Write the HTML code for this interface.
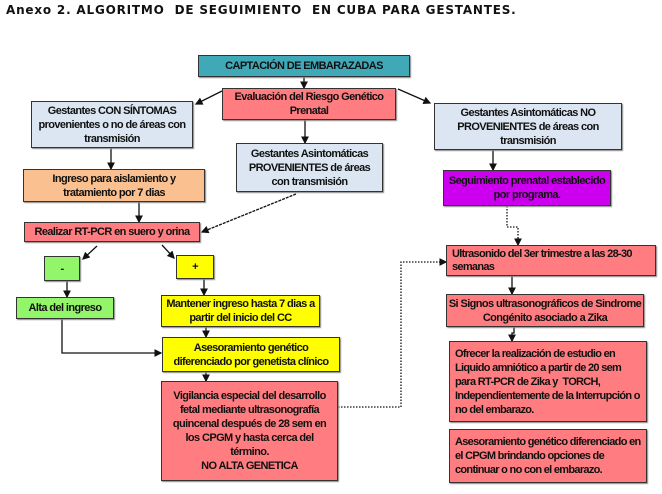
<!DOCTYPE html>
<html><head><meta charset="utf-8"><style>
body{margin:0;width:662px;height:494px;background:#fff;position:relative;overflow:hidden}
.t{position:absolute;left:6px;top:3px;font:bold 12px "DejaVu Sans",sans-serif;color:#111;white-space:nowrap;letter-spacing:0.8px}
.b{position:absolute;box-sizing:border-box;border:1.5px solid #333;display:flex;align-items:center;justify-content:center;text-align:center;font:bold 11px/14px "Liberation Sans",sans-serif;letter-spacing:-0.6px;white-space:nowrap;color:#111;box-shadow:1px 1px 1px #888}
.l{justify-content:flex-start;text-align:left;padding-left:5px;letter-spacing:-0.7px}
.pk{background:#ff7c80}.bl{background:#dce6f2}.or{background:#fac08f}.gr{background:#92f56a}.ye{background:#ffff00}
svg{position:absolute;left:0;top:0}
</style></head><body>
<div class="t">Anexo 2. ALGORITMO &nbsp;DE SEGUIMIENTO &nbsp;EN CUBA PARA GESTANTES.</div>
<svg width="662" height="494">
<defs><marker id="a" markerWidth="6" markerHeight="6" refX="5" refY="3" orient="auto"><path d="M0,0L6,3L0,6z" fill="#111"/></marker></defs>
<g stroke="#111" stroke-width="1.3" fill="none" marker-end="url(#a)">
<line x1="304" y1="77" x2="304" y2="88"/>
<line x1="222" y1="91" x2="196" y2="104"/>
<line x1="398" y1="89" x2="430" y2="103"/>
<line x1="305" y1="120" x2="305" y2="143"/>
<line x1="111" y1="148" x2="111" y2="169"/>
<line x1="139" y1="202" x2="139" y2="222"/>
<line x1="296" y1="194" x2="202" y2="232" stroke-dasharray="3,1"/>
<line x1="97" y1="246" x2="83" y2="259"/>
<line x1="162" y1="245" x2="174" y2="258"/>
<line x1="67" y1="281" x2="67" y2="297"/>
<line x1="204" y1="279" x2="204" y2="295"/>
<line x1="206" y1="327" x2="206" y2="337"/>
<polyline points="62,319 62,353 161,353"/>
<line x1="206" y1="372" x2="206" y2="381"/>
<polyline points="338,407 401,407 401,262 446,262" stroke-dasharray="1.5,1.5"/>
<line x1="493" y1="150" x2="493" y2="170"/>
<polyline points="507,206 507,227 518,227 518,245" stroke-dasharray="1.5,1.5"/>
<line x1="512" y1="276" x2="512" y2="294"/>
<polyline points="514,327 514,333 512,333 512,341"/>
</g></svg>
<div class="b" style="left:198px;top:55px;width:212px;height:22px;background:#40a9b8">CAPTACIÓN DE EMBARAZADAS</div>
<div class="b pk" style="left:222px;top:88px;width:174px;height:32px">Evaluación del Riesgo Genético<br>Prenatal</div>
<div class="b bl" style="left:31px;top:101px;width:162px;height:47px">Gestantes CON SÍNTOMAS<br>provenientes o no de áreas con<br>transmisión</div>
<div class="b bl" style="left:236px;top:143px;width:147px;height:49px">Gestantes Asintomáticas<br>PROVENIENTES de áreas<br>con transmisión</div>
<div class="b bl" style="left:434px;top:103px;width:188px;height:47px">Gestantes Asintomáticas NO<br>PROVENIENTES de áreas con<br>transmisión</div>
<div class="b or" style="left:23px;top:169px;width:182px;height:33px">Ingreso para aislamiento y<br>tratamiento por 7 dias</div>
<div class="b" style="left:443px;top:170px;width:168px;height:36px;background:#cc00ee">Seguimiento prenatal establecido<br>por programa.</div>
<div class="b pk" style="left:24px;top:222px;width:176px;height:20px">Realizar RT-PCR en suero y orina</div>
<div class="b pk l" style="left:446px;top:245px;width:210px;height:31px;line-height:13px">Ultrasonido del 3er trimestre a las 28-30<br>semanas</div>
<div class="b gr" style="left:44px;top:256px;width:36px;height:25px">-</div>
<div class="b ye" style="left:176px;top:255px;width:38px;height:24px">+</div>
<div class="b gr" style="left:16px;top:297px;width:98px;height:22px">Alta del ingreso</div>
<div class="b ye" style="left:161px;top:295px;width:159px;height:32px">Mantener ingreso hasta 7 dias a<br>partir del inicio del CC</div>
<div class="b pk" style="left:446px;top:294px;width:198px;height:33px">Si Signos ultrasonográficos de Sindrome<br>Congénito asociado a Zika</div>
<div class="b ye" style="left:162px;top:337px;width:178px;height:35px">Asesoramiento genético<br>diferenciado por genetista clínico</div>
<div class="b pk l" style="left:449px;top:341px;width:198px;height:81px">Ofrecer la realización de estudio en<br>Liquido amniótico a partir de 20 sem<br>para RT-PCR de Zika y &nbsp;TORCH,<br>Independientemente de la Interrupción o<br>no del embarazo.</div>
<div class="b pk" style="left:161px;top:381px;width:177px;height:100px">Vigilancia especial del desarrollo<br>fetal mediante ultrasonografía<br>quincenal después de 28 sem en<br>los CPGM y hasta cerca del<br>término.<br>NO ALTA GENETICA</div>
<div class="b pk l" style="left:449px;top:429px;width:198px;height:54px">Asesoramiento genético diferenciado en<br>el CPGM brindando opciones de<br>continuar o no con el embarazo.</div>
</body></html>
